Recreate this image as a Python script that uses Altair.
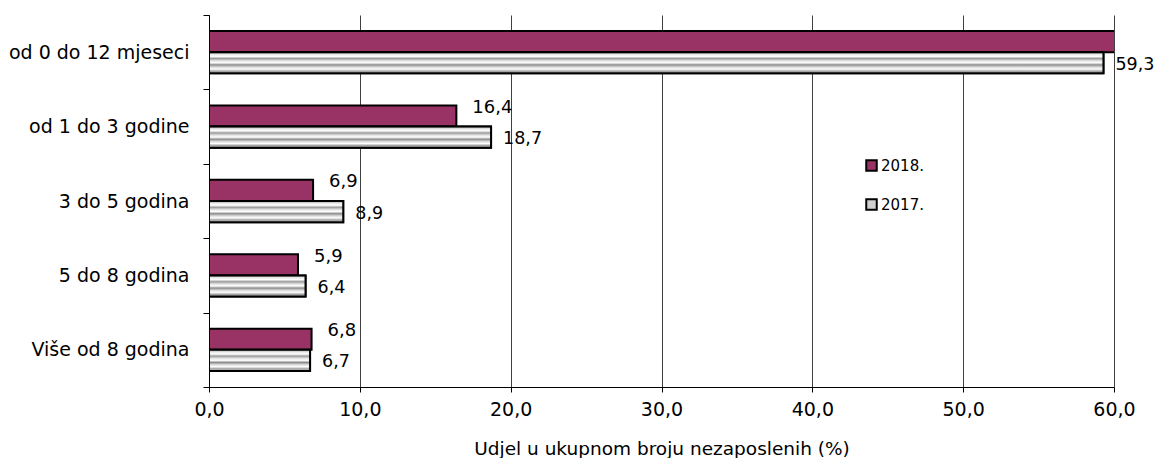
import altair as alt
import pandas as pd

categories = ["od 0 do 12 mjeseci", "od 1 do 3 godine", "3 do 5 godina", "5 do 8 godina", "Više od 8 godina"]
series = ["2018.", "2017."]
values_2018 = [61.0, 16.4, 6.9, 5.9, 6.8]
values_2017 = [59.3, 18.7, 8.9, 6.4, 6.7]

rows = []
for c, v in zip(categories, values_2018):
    rows.append({"cat": c, "series": "2018.", "value": v})
for c, v in zip(categories, values_2017):
    rows.append({"cat": c, "series": "2017.", "value": v})
df = pd.DataFrame(rows)
df["label"] = df["value"].map(lambda v: f"{v:.1f}".replace(".", ","))

FONT = "DejaVu Sans"
PURPLE = "#993366"

stripe = alt.LinearGradient(
    gradient="linear", x1=0, x2=0, y1=0, y2=1,
    stops=[
        alt.GradientStop(offset=0.0, color="#8a8a8a"),
        alt.GradientStop(offset=0.1, color="#e6e6e6"),
        alt.GradientStop(offset=0.2, color="#ffffff"),
        alt.GradientStop(offset=0.3, color="#9a9a9a"),
        alt.GradientStop(offset=0.4, color="#e0e0e0"),
        alt.GradientStop(offset=0.5, color="#ffffff"),
        alt.GradientStop(offset=0.6, color="#8c8c8c"),
        alt.GradientStop(offset=0.7, color="#d8d8d8"),
        alt.GradientStop(offset=0.8, color="#ffffff"),
        alt.GradientStop(offset=0.9, color="#a0a0a0"),
        alt.GradientStop(offset=1.0, color="#c8c8c8"),
    ],
)

y_enc = alt.Y(
    "cat:N", sort=categories, title=None,
    scale=alt.Scale(paddingInner=0, paddingOuter=0),
    axis=alt.Axis(tickBand="extent", labelFontSize=19, labelFont=FONT, labelColor="black",
                  domainColor="black", tickColor="black", tickSize=6, labelPadding=14,
                  labelLimit=0, grid=False),
)
yoff = alt.YOffset("series:N", scale=alt.Scale(domain=series, paddingInner=0, paddingOuter=0.76))
x_enc = alt.X(
    "value:Q", title="Udjel u ukupnom broju nezaposlenih (%)",
    scale=alt.Scale(domain=[0, 60], nice=False),
    axis=alt.Axis(values=[0, 10, 20, 30, 40, 50, 60],
                  labelExpr="replace(format(datum.value, '.1f'), '.', ',')",
                  labelFontSize=19, labelFont=FONT, labelColor="black",
                  labelFlush=False, labelOverlap=False,
                  titleFontSize=18.5, titleFont=FONT, titleFontWeight="normal", titleColor="black",
                  titlePadding=20, labelPadding=8,
                  domainColor="black", tickColor="black", tickSize=5,
                  grid=True, gridColor="#404040", gridWidth=1),
)

base = alt.Chart(df)

bars = base.mark_bar(stroke="black", strokeWidth=2, clip=True).encode(
    x=x_enc, y=y_enc, yOffset=yoff,
    color=alt.Color("series:N", scale=alt.Scale(domain=series, range=[PURPLE, "#d0d0d0"]),
                    legend=alt.Legend(title=None, orient="none", legendX=655, legendY=143,
                                      symbolType="square", symbolSize=110,
                                      symbolStrokeColor="black", symbolStrokeWidth=2,
                                      labelFontSize=15, labelFont=FONT, labelColor="black",
                                      rowPadding=20, labelOffset=2)),
)

bars17 = base.transform_filter(alt.datum.series == "2017.").mark_bar(
    stroke="black", strokeWidth=2, fill=stripe, clip=True
).encode(x="value:Q", y=alt.Y("cat:N", sort=categories), yOffset=yoff)

lab18 = base.transform_filter((alt.datum.series == "2018.") & (alt.datum.value <= 60)).mark_text(
    align="left", baseline="middle", dx=16, dy=-8, fontSize=18, font=FONT, color="black"
).encode(x="value:Q", y=alt.Y("cat:N", sort=categories), yOffset=yoff, text="label:N")

lab17 = base.transform_filter((alt.datum.series == "2017.") & (alt.datum.value <= 60)).mark_text(
    align="left", baseline="middle", dx=12, dy=2, fontSize=17.5, font=FONT, color="black"
).encode(x="value:Q", y=alt.Y("cat:N", sort=categories), yOffset=yoff, text="label:N")

chart = alt.layer(bars, bars17, lab18, lab17).properties(
    width=905, height=372,
    autosize=alt.AutoSizeParams(type="none"),
    padding={"left": 201, "top": 7, "right": 41, "bottom": 71},
).configure(background="white").configure_view(stroke=None)

chart.save("out.html", embed_options={"renderer": "svg", "actions": False})
